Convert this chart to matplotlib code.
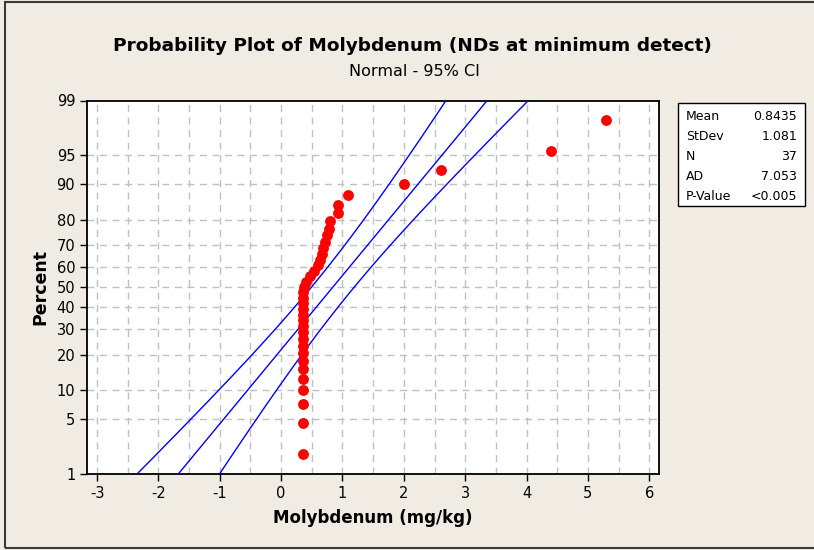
import numpy as np
import matplotlib
matplotlib.use("Agg")
import matplotlib.pyplot as plt
from matplotlib.patches import Rectangle
from statistics import NormalDist

# --- dados ---
molibdenio = [0.35] * 18 + [0.37, 0.41, 0.47, 0.53, 0.60, 0.64, 0.66, 0.69,
                            0.72, 0.75, 0.78, 0.80, 0.93, 0.93, 1.09,
                            2.0, 2.6, 4.4, 5.3]
media = 0.8435
desvio = 1.081
n_obs = 37
ad = 7.053
p_valor = "<0.005"

percent_ticks = [1, 5, 10, 20, 30, 40, 50, 60, 70, 80, 90, 95, 99]
x_ticks = [-3, -2, -1, 0, 1, 2, 3, 4, 5, 6]

W, H = 814, 550
nd = NormalDist()
ppf = np.vectorize(lambda p: nd.inv_cdf(p))

fig = plt.figure(figsize=(W / 100, H / 100), dpi=100)
fig.patch.set_facecolor("#F0ECE3")
fig.patches.append(Rectangle((5 / W, 2 / H), 820 / W, 546 / H, transform=fig.transFigure,
                             facecolor="none", edgecolor="#3a3a3a", linewidth=1.5))

ax = fig.add_axes([87 / W, 1 - 473.7 / H, (659.3 - 87) / W, (473.7 - 100.5) / H])
ax.set_facecolor("white")

# posicoes de plotagem (ranks medianos)
x = np.sort(np.array(molibdenio))
i = np.arange(1, len(x) + 1)
pp = (i - 0.3) / (len(x) + 0.4)
z_pts = ppf(pp)

# reta ajustada e IC 95%
zz = np.linspace(ppf(0.005), ppf(0.995), 200)
xfit = media + desvio * zz
se = desvio * np.sqrt((1 + zz ** 2 / 2) / n_obs)
for xl in (xfit - 1.96 * se, xfit, xfit + 1.96 * se):
    ax.plot(xl, zz, color="#0000FF", lw=1.0, zorder=3)

ax.plot(x, z_pts, "o", color="#FF0000", markersize=7.8, markeredgewidth=0, zorder=4)

ax.set_xlim(-3.163, 6.163)
ax.set_ylim(ppf(0.01), ppf(0.99))

ax.set_xticks(x_ticks)
ax.set_xticklabels([str(t) for t in x_ticks])
ax.set_yticks(ppf(np.array(percent_ticks) / 100))
ax.set_yticklabels([str(t) for t in percent_ticks])
ax.tick_params(direction="out", length=5, width=1, labelsize=10.5, colors="black")

grid_kw = dict(color="#C0C0C0", lw=1.0, ls=(0, (5, 4)), zorder=1)
for gx in np.arange(-3, 6.01, 0.5):
    ax.axvline(gx, **grid_kw)
for gy in percent_ticks[1:-1]:
    ax.axhline(ppf(gy / 100), **grid_kw)

for s in ax.spines.values():
    s.set_linewidth(1.3)
    s.set_color("black")

ax.set_xlabel("Molybdenum (mg/kg)", fontsize=12, fontweight="bold", labelpad=6)
ax.set_ylabel("Percent", fontsize=12.5, fontweight="bold", labelpad=5)

fig.text(412 / W, 1 - 46 / H, "Probability Plot of Molybdenum (NDs at minimum detect)",
         ha="center", va="center", fontsize=13.3, fontweight="bold")
fig.text(414 / W, 1 - 71 / H, "Normal - 95% CI", ha="center", va="center", fontsize=11.5)

# caixa de estatisticas
fig.patches.append(Rectangle((677.7 / W, 1 - 205.7 / H), (805 - 677.7) / W, (205.7 - 102.7) / H,
                             transform=fig.transFigure, facecolor="white",
                             edgecolor="black", linewidth=1.0))
linhas = [("Mean", f"{media}"), ("StDev", f"{desvio}"), ("N", f"{n_obs}"),
          ("AD", f"{ad}"), ("P-Value", p_valor)]
for k, (rot, val) in enumerate(linhas):
    yy = 1 - (116 + 20 * k) / H
    fig.text(686 / W, yy, rot, ha="left", va="center", fontsize=9)
    fig.text(797 / W, yy, val, ha="right", va="center", fontsize=9)

fig.savefig("out.png", dpi=100, facecolor=fig.get_facecolor())
